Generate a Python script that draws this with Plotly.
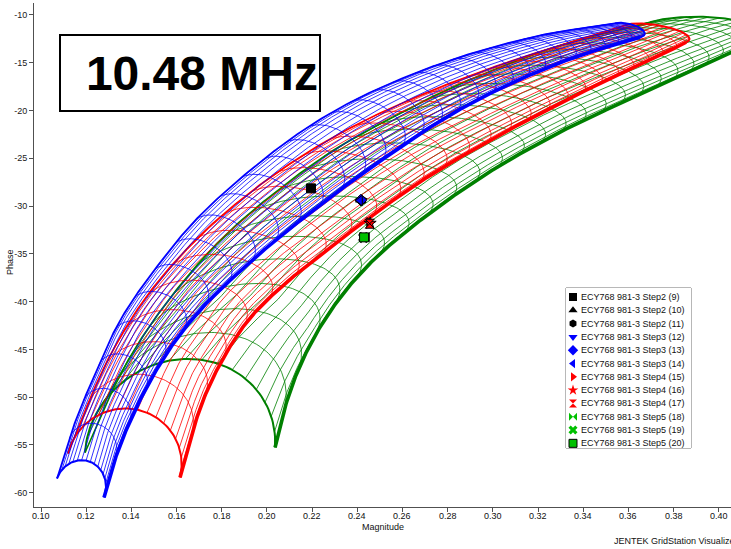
import numpy as np
import plotly.graph_objects as go

# ---------------------------------------------------------------- frame
X_RANGE = [0.0969, 0.4054]
Y_RANGE = [-61.5, -8.75]
X_TICKS = [round(0.10 + 0.02 * i, 2) for i in range(16)]
Y_TICKS = list(range(-60, -5, 5))
MARGIN = dict(l=34, r=0, t=3, b=42)
FIG_W, FIG_H = 731, 549
PLOT_W = FIG_W - MARGIN["l"] - MARGIN["r"]
PLOT_H = FIG_H - MARGIN["t"] - MARGIN["b"]

# ---------------------------------------------------------------- grids
# Each measurement grid: outer (high lift-off) edge and inner (thick) edge,
# listed from the low-magnitude end to the high-magnitude end.
BLUE_OUTER_MAG = [0.10708, 0.11372, 0.12169, 0.13497, 0.15268, 0.17038, 0.19252,
                  0.21465, 0.23678, 0.25892, 0.28105, 0.30319, 0.32532, 0.35409]
BLUE_OUTER_PH = [-58.51, -53.49, -48.77, -41.97, -35.90, -30.97, -26.26,
                 -22.28, -19.14, -16.73, -14.74, -13.17, -11.92, -10.87]
BLUE_INNER_MAG = [0.12789, 0.13187, 0.13763, 0.14604, 0.15711, 0.17038, 0.18721,
                  0.20580, 0.22793, 0.25007, 0.27663, 0.30319, 0.33417, 0.36516]
BLUE_INNER_PH = [-60.50, -57.15, -53.49, -49.30, -44.90, -40.90, -37.00,
                 -33.20, -29.10, -25.30, -21.10, -17.70, -14.60, -12.34]

RED_OUTER_MAG = [0.11195, 0.11948, 0.13054, 0.14604, 0.16596, 0.18809,
                 0.21244, 0.23900, 0.26777, 0.29876, 0.32975, 0.35852]
RED_OUTER_PH = [-55.90, -51.39, -45.63, -39.66, -34.12, -29.40,
                -25.21, -21.55, -18.41, -15.58, -13.17, -11.08]
RED_INNER_MAG = [0.16153, 0.16596, 0.17171, 0.18012, 0.19163, 0.20713, 0.22483,
                 0.24785, 0.27220, 0.29876, 0.32532, 0.35188, 0.37402, 0.38553]
RED_INNER_PH = [-58.41, -54.53, -50.35, -46.16, -41.97, -38.30, -34.95,
                -30.76, -26.79, -23.12, -19.77, -16.63, -14.22, -12.86]

GREEN_OUTER_MAG = [0.11948, 0.13054, 0.14383, 0.16153, 0.18145, 0.20359,
                   0.22793, 0.25449, 0.28105, 0.30761, 0.33417, 0.36959]
GREEN_OUTER_PH = [-55.80, -49.82, -44.06, -38.30, -33.07, -28.57,
                  -24.38, -20.82, -17.68, -15.06, -12.86, -10.76]
GREEN_INNER_MAG = [0.20359, 0.20757, 0.21377, 0.22262, 0.23413, 0.24785, 0.26335,
                   0.28105, 0.30319, 0.32532, 0.34303, 0.36516, 0.38729, 0.40500, 0.41386]
GREEN_INNER_PH = [-55.27, -51.39, -47.20, -43.02, -39.04, -35.48, -32.34,
                  -29.20, -25.74, -22.81, -20.71, -18.30, -15.90, -13.91, -13.07]

# bulge of the constant-lift-off arcs, as a fraction of their chord
BULGE_POS = [0.0, 0.12, 0.35, 0.7, 1.0]
BLUE_BULGE = [0.55, 0.42, 0.32, 0.32, 0.42]
RED_BULGE = [0.50, 0.40, 0.30, 0.30, 0.25]
GREEN_BULGE = [0.48, 0.38, 0.28, 0.28, 0.40]
# near the low end the arcs open square to their chord, further on they lean
# along the grid direction
SQUARE_POS = [0.0, 0.15]
SQUARE_WEIGHT = [0.75, 0.0]

GRID_STYLE = {
    "blue": dict(color="#0000FF", arcs=30, ratio=3.0, lines=18),
    "red": dict(color="#FF0000", arcs=26, ratio=3.0, lines=18),
    "green": dict(color="#008000", arcs=26, ratio=3.0, lines=18),
}

# ---------------------------------------------------------------- measurements
SERIES = ["ECY768 981-3 Step2 (9)", "ECY768 981-3 Step2 (10)", "ECY768 981-3 Step2 (11)",
          "ECY768 981-3 Step3 (12)", "ECY768 981-3 Step3 (13)", "ECY768 981-3 Step3 (14)",
          "ECY768 981-3 Step4 (15)", "ECY768 981-3 Step4 (16)", "ECY768 981-3 Step4 (17)",
          "ECY768 981-3 Step5 (18)", "ECY768 981-3 Step5 (19)", "ECY768 981-3 Step5 (20)"]
MEAS_MAG = [0.2195, 0.2415, 0.2420, 0.2418, 0.2416, 0.2412,
            0.2452, 0.2457, 0.2455, 0.2433, 0.2428, 0.2430]
MEAS_PH = [-28.15, -29.35, -29.40, -29.45, -29.38, -29.42,
           -31.75, -31.80, -31.85, -33.25, -33.30, -33.28]
SYMBOLS = ["square", "triangle-up", "hexagon", "triangle-down", "diamond", "triangle-left",
           "triangle-right", "star", "hourglass", "bowtie", "x", "square"]
COLORS = ["#000000", "#000000", "#000000", "#0000FF", "#0000FF", "#0000FF",
          "#FF0000", "#FF0000", "#FF0000", "#00C000", "#00C000", "#00C000"]

# ---------------------------------------------------------------- geometry helpers
SX = PLOT_W / (X_RANGE[1] - X_RANGE[0])
SY = PLOT_H / (Y_RANGE[1] - Y_RANGE[0])


def to_work(mag, ph):
    return np.column_stack([(np.asarray(mag) - X_RANGE[0]) * SX,
                            (np.asarray(ph) - Y_RANGE[0]) * SY])


def from_work(p):
    return p[..., 0] / SX + X_RANGE[0], p[..., 1] / SY + Y_RANGE[0]


def catmull_rom(pts, n=30):
    P = np.vstack([2 * pts[0] - pts[1], pts, 2 * pts[-1] - pts[-2]])
    t = np.linspace(0, 1, n, endpoint=False)[:, None]
    segs = []
    for i in range(1, len(P) - 2):
        p0, p1, p2, p3 = P[i - 1], P[i], P[i + 1], P[i + 2]
        segs.append(0.5 * (2 * p1 + (-p0 + p2) * t + (2 * p0 - 5 * p1 + 4 * p2 - p3) * t ** 2
                           + (-p0 + 3 * p1 - 3 * p2 + p3) * t ** 3))
    segs.append(P[-2][None, :])
    return np.vstack(segs)


class Curve:
    def __init__(self, mag, ph):
        d = catmull_rom(to_work(mag, ph))
        seg = np.hypot(*np.diff(d, axis=0).T)
        s = np.concatenate([[0], np.cumsum(seg)])
        self.d, self.s = d, s / s[-1]

    def at(self, u):
        u = np.clip(u, 0, 1)
        return np.column_stack([np.interp(u, self.s, self.d[:, 0]),
                                np.interp(u, self.s, self.d[:, 1])])

    def tangent(self, u, h=0.01):
        v = self.at(u + h) - self.at(u - h)
        return v / np.linalg.norm(v, axis=1)[:, None]


def unit(v):
    return v / np.linalg.norm(v, axis=1)[:, None]


def surface(outer, inner, bulge, u, theta):
    o, t = outer.at(u), inner.at(u)
    tan = unit(outer.tangent(u) + inner.tangent(u))
    c = t - o
    nrm = unit(np.column_stack([-c[:, 1], c[:, 0]]))
    nrm *= np.sign(np.sum(nrm * tan, axis=1))[:, None]
    w = np.interp(u, SQUARE_POS, SQUARE_WEIGHT)[:, None]
    d = unit(w * nrm + (1 - w) * tan)
    b = np.interp(u, BULGE_POS, bulge) * np.linalg.norm(c, axis=1)
    frac = ((1 - np.cos(theta)) / 2)[None, :, None]
    lift = np.sin(theta)[None, :, None]
    return o[:, None, :] + c[:, None, :] * frac + (d * b[:, None])[:, None, :] * lift


def polylines(paths):
    xs, ys = [], []
    for p in paths:
        m, ph = from_work(p)
        xs += list(m) + [None]
        ys += list(ph) + [None]
    return xs, ys


def grid_traces(name, outer_m, outer_p, inner_m, inner_p, bulge):
    st = GRID_STYLE[name]
    outer, inner = Curve(outer_m, outer_p), Curve(inner_m, inner_p)
    n = st["arcs"]
    steps = st["ratio"] ** (-np.arange(n) / (n - 1))
    u_arc = np.concatenate([[0], np.cumsum(steps)]) / steps.sum()
    th_dense = np.linspace(0, np.pi, 80)
    arcs = surface(outer, inner, bulge, u_arc, th_dense)
    u_dense = np.linspace(0, 1, 400)
    th_lines = np.linspace(0, np.pi, st["lines"] + 1)
    longs = surface(outer, inner, bulge, u_dense, th_lines)

    col = st["color"]
    out = []
    xs, ys = polylines([arcs[k] for k in range(1, n)] +
                       [longs[:, j] for j in range(1, st["lines"])])
    out.append(go.Scatter(x=xs, y=ys, mode="lines", line=dict(color=col, width=0.8),
                          hoverinfo="skip", showlegend=False))
    xs, ys = polylines([arcs[0], arcs[n]])
    out.append(go.Scatter(x=xs, y=ys, mode="lines", line=dict(color=col, width=2),
                          hoverinfo="skip", showlegend=False))
    xs, ys = polylines([longs[:, 0]])
    out.append(go.Scatter(x=xs, y=ys, mode="lines", line=dict(color=col, width=1.6),
                          hoverinfo="skip", showlegend=False))
    xs, ys = polylines([longs[:, -1]])
    out.append(go.Scatter(x=xs, y=ys, mode="lines", line=dict(color=col, width=3.6),
                          hoverinfo="skip", showlegend=False))
    return out


fig = go.Figure()
for tr in grid_traces("green", GREEN_OUTER_MAG, GREEN_OUTER_PH,
                      GREEN_INNER_MAG, GREEN_INNER_PH, GREEN_BULGE):
    fig.add_trace(tr)
for tr in grid_traces("red", RED_OUTER_MAG, RED_OUTER_PH,
                      RED_INNER_MAG, RED_INNER_PH, RED_BULGE):
    fig.add_trace(tr)
for tr in grid_traces("blue", BLUE_OUTER_MAG, BLUE_OUTER_PH,
                      BLUE_INNER_MAG, BLUE_INNER_PH, BLUE_BULGE):
    fig.add_trace(tr)

# measured points
for name, m, p, sym, col in zip(SERIES, MEAS_MAG, MEAS_PH, SYMBOLS, COLORS):
    fig.add_trace(go.Scatter(x=[m], y=[p], mode="markers", name=name, showlegend=False,
                             marker=dict(symbol=sym, size=9, color=col,
                                         line=dict(color="#000000", width=1))))

# ---------------------------------------------------------------- legend panel
LEG_X = [(566 - MARGIN["l"]) / PLOT_W, (691 - MARGIN["l"]) / PLOT_W]
LEG_Y = [(FIG_H - MARGIN["b"] - 448) / PLOT_H, (FIG_H - MARGIN["b"] - 288) / PLOT_H]
rows = list(range(len(SERIES)))
fig.add_trace(go.Scatter(x=[7] * len(rows), y=rows, mode="markers", xaxis="x2", yaxis="y2",
                         showlegend=False, hoverinfo="skip",
                         marker=dict(symbol=SYMBOLS, size=8, color=COLORS,
                                     line=dict(color="#000000", width=[0] * 11 + [1]))))
TEXT_FONT = dict(family="Arial", size=9, color="#111111")
annotations = [dict(x=13, y=r, xref="x2", yref="y2", text=s, showarrow=False,
                    xanchor="left", yanchor="middle", font=TEXT_FONT)
               for r, s in zip(rows, SERIES)]

# x tick labels sit close under the axis
annotations += [dict(x=v, y=-9 / PLOT_H, xref="x", yref="paper", text=f"{v:.2f}",
                     showarrow=False, xanchor="center", yanchor="middle", font=TEXT_FONT)
                for v in X_TICKS]

annotations += [
    dict(x=((59 + 321) / 2 - MARGIN["l"]) / PLOT_W, y=(FIG_H - MARGIN["b"] - 73) / PLOT_H,
         xref="paper", yref="paper", text="<b>10.48 MHz</b>", showarrow=False,
         xanchor="center", yanchor="middle", width=256, height=72, borderpad=1, align="right",
         bordercolor="#000000", borderwidth=2, bgcolor="#FFFFFF",
         font=dict(family="Arial", size=48, color="#000000")),
    dict(x=0.5, y=-20 / PLOT_H, xref="paper", yref="paper", text="Magnitude",
         showarrow=False, xanchor="center", yanchor="middle", font=TEXT_FONT),
    dict(x=-24 / PLOT_W, y=(FIG_H - MARGIN["b"] - 262) / PLOT_H, xref="paper", yref="paper",
         text="Phase", textangle=-90, showarrow=False, xanchor="center", yanchor="middle",
         font=TEXT_FONT),
    dict(x=(612 - MARGIN["l"]) / PLOT_W, y=-34 / PLOT_H, xref="paper", yref="paper",
         text="JENTEK GridStation Visualizer", showarrow=False, xanchor="left",
         yanchor="middle", font=TEXT_FONT),
]

axis_common = dict(ticks="outside", ticklen=4, tickwidth=1, tickcolor="#505050",
                   showline=True, linecolor="#505050", linewidth=1, showgrid=False,
                   zeroline=False, tickfont=dict(family="Arial", size=9, color="#202020"))

fig.update_layout(
    width=FIG_W, height=FIG_H, margin=MARGIN,
    paper_bgcolor="#FFFFFF", plot_bgcolor="#FFFFFF", showlegend=False,
    xaxis=dict(range=X_RANGE, tickmode="array", tickvals=X_TICKS, showticklabels=False,
               **axis_common),
    yaxis=dict(range=Y_RANGE, tickmode="array", tickvals=Y_TICKS,
               ticktext=[str(v) for v in Y_TICKS], **axis_common),
    xaxis2=dict(domain=LEG_X, range=[0, 125], visible=False, anchor="y2"),
    yaxis2=dict(domain=LEG_Y, range=[11.35, -0.677], visible=False, anchor="x2"),
    shapes=[dict(type="rect", xref="paper", yref="paper", x0=LEG_X[0], x1=LEG_X[1],
                 y0=LEG_Y[0], y1=LEG_Y[1], line=dict(color="#707070", width=1),
                 fillcolor="#FFFFFF", layer="below")],
    annotations=annotations,
)

fig.write_html("out.html")
